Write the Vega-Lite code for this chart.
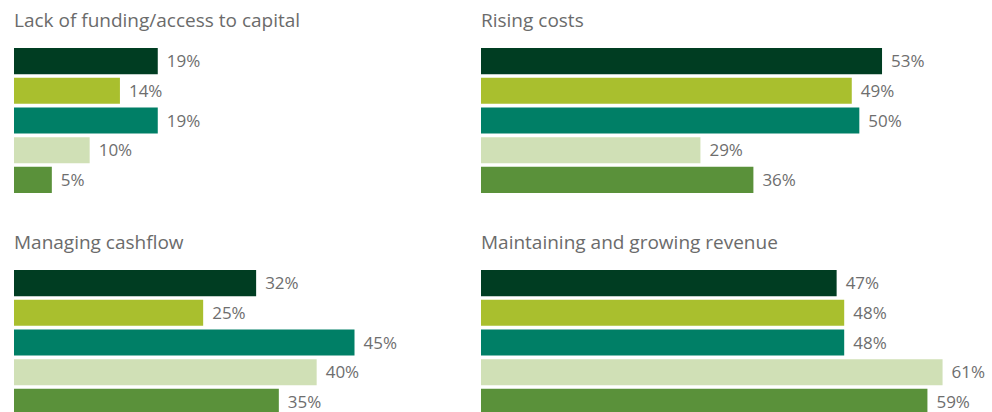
{
  "$schema": "https://vega.github.io/schema/vega-lite/v6.json",
  "padding": {"left": 14, "top": 12, "right": 0, "bottom": 0},
  "bounds": "flush",
  "background": "white",
  "data": {"values": [
    {"panel": "Lack of funding/access to capital", "group": "G1", "value": 19},
    {"panel": "Lack of funding/access to capital", "group": "G2", "value": 14},
    {"panel": "Lack of funding/access to capital", "group": "G3", "value": 19},
    {"panel": "Lack of funding/access to capital", "group": "G4", "value": 10},
    {"panel": "Lack of funding/access to capital", "group": "G5", "value": 5},
    {"panel": "Rising costs", "group": "G1", "value": 53},
    {"panel": "Rising costs", "group": "G2", "value": 49},
    {"panel": "Rising costs", "group": "G3", "value": 50},
    {"panel": "Rising costs", "group": "G4", "value": 29},
    {"panel": "Rising costs", "group": "G5", "value": 36},
    {"panel": "Managing cashflow", "group": "G1", "value": 32},
    {"panel": "Managing cashflow", "group": "G2", "value": 25},
    {"panel": "Managing cashflow", "group": "G3", "value": 45},
    {"panel": "Managing cashflow", "group": "G4", "value": 40},
    {"panel": "Managing cashflow", "group": "G5", "value": 35},
    {"panel": "Maintaining and growing revenue", "group": "G1", "value": 47},
    {"panel": "Maintaining and growing revenue", "group": "G2", "value": 48},
    {"panel": "Maintaining and growing revenue", "group": "G3", "value": 48},
    {"panel": "Maintaining and growing revenue", "group": "G4", "value": 61},
    {"panel": "Maintaining and growing revenue", "group": "G5", "value": 59}
  ]},
  "transform": [{"calculate": "datum.value + '%'", "as": "label"}],
  "facet": {
    "field": "panel",
    "type": "nominal",
    "sort": ["Lack of funding/access to capital", "Rising costs", "Managing cashflow", "Maintaining and growing revenue"],
    "title": null,
    "header": {
      "labelAnchor": "start",
      "labelAlign": "left",
      "labelFontSize": 19,
      "labelFont": "Open Sans",
      "labelColor": "#6b6b6b",
      "labelPadding": 17,
      "labelLimit": 0
    }
  },
  "columns": 2,
  "spacing": {"column": 13, "row": 77},
  "spec": {
    "width": 454,
    "height": 145,
    "encoding": {
      "y": {
        "field": "group", "type": "nominal", "axis": null,
        "scale": {"paddingInner": 0.12, "paddingOuter": 0}
      },
      "x": {
        "field": "value", "type": "quantitative", "axis": null,
        "scale": {"domain": [0, 60], "nice": false}
      }
    },
    "layer": [
      {
        "mark": {"type": "bar", "clip": false},
        "encoding": {
          "color": {
            "field": "group", "type": "nominal", "legend": null,
            "scale": {
              "domain": ["G1", "G2", "G3", "G4", "G5"],
              "range": ["#003d22", "#a9bf2e", "#007f66", "#d0e0b6", "#5a913a"]
            }
          }
        }
      },
      {
        "mark": {"type": "text", "align": "left", "baseline": "middle", "dx": 9, "dy": 1, "font": "Open Sans", "fontSize": 17, "color": "#6e6e6e"},
        "encoding": {
          "text": {"field": "label", "type": "nominal"}
        }
      }
    ]
  },
  "config": {
    "view": {"stroke": null}
  }
}
